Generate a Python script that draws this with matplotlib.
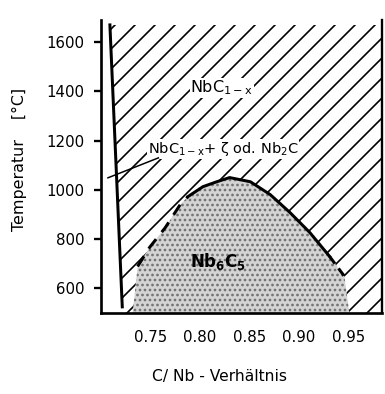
import matplotlib
matplotlib.use('Agg')
import matplotlib.pyplot as plt
import numpy as np

# phase boundary NbC(1-x) / two phase field (left steep line)
left_x = [0.709, 0.7215]
left_T = [1670, 525]

# Nb6C5 order region (dome)
dome_x = [0.732, 0.737, 0.749, 0.765, 0.780, 0.788, 0.803, 0.817, 0.830,
          0.851, 0.871, 0.891, 0.911, 0.931, 0.946, 0.951]
dome_T = [500, 689, 766, 847, 940, 973, 1013, 1033, 1050,
          1033, 981, 908, 827, 730, 649, 500]

yticks = [600, 800, 1000, 1200, 1400, 1600]
xticks = [0.75, 0.80, 0.85, 0.90, 0.95]
xticklabels = ['0.75', '0.80', '0.85', '0.90', '0.95']

plt.rcParams['hatch.linewidth'] = 1.0

fig = plt.figure(figsize=(385 / 120, 394 / 120), dpi=120)
ax = fig.add_axes([101 / 385, 1 - 313 / 394, 281 / 385, 293 / 394])
ax.set_xlim(0.70, 0.984)
ax.set_ylim(500, 1690)

# hatched single phase field between left boundary and right edge
hx = [left_x[0], 0.984, 0.984, left_x[1], left_x[1]]
hy = [left_T[0], left_T[0], 500, 500, left_T[1]]
ax.fill(hx, hy, facecolor='white', edgecolor='black', linewidth=0, hatch='//', zorder=1)

# stippled Nb6C5 field
ax.fill(dome_x, dome_T, facecolor='#d4d4d4', edgecolor='#6e6e6e',
        hatch='....', linewidth=0, zorder=2)

# boundary lines
ax.plot(left_x, left_T, color='black', lw=1.8, zorder=4)
ax.plot(dome_x[1:6], dome_T[1:6], color='black', lw=1.8, ls=(0, (4, 3)), zorder=4)
ax.plot(dome_x[5:14], dome_T[5:14], color='black', lw=1.8, zorder=4)
ax.plot(dome_x[13:15], dome_T[13:15], color='black', lw=1.8, ls=(0, (3, 2)), zorder=4)

# labels in the diagram
ax.text(0.822, 1414, r'NbC$_{\mathregular{1-x}}$', fontsize=9.6, ha='center', va='center', zorder=5,
        bbox=dict(facecolor='white', edgecolor='none', pad=0.5))
ax.text(0.7475, 1167, r'NbC$_{\mathregular{1-x}}$+ ζ od. Nb$_{\mathregular{2}}$C', fontsize=8.7,
        ha='left', va='center', zorder=5,
        bbox=dict(facecolor='white', edgecolor='none', pad=0.5))
ax.plot([0.758, 0.707], [1130, 1049], color='black', lw=0.9, zorder=5)
ax.text(0.818, 709, r'Nb$_{\mathregular{6}}$C$_{\mathregular{5}}$', fontsize=10, fontweight='bold',
        ha='center', va='center', zorder=5)

ax.spines['top'].set_visible(False)
ax.spines['left'].set_linewidth(1.6)
ax.spines['bottom'].set_linewidth(1.6)
ax.spines['right'].set_linewidth(1.4)
ax.set_yticks(yticks)
ax.set_xticks(xticks)
ax.set_xticklabels(xticklabels)
ax.tick_params(axis='x', length=0, pad=10, labelsize=9)
ax.tick_params(axis='y', length=4, width=1.4, direction='out', pad=6, labelsize=9)

fig.text(220 / 385, 1 - 377 / 394, 'C/ Nb - Verhältnis', ha='center', va='center', fontsize=9.3)
fig.text(19 / 385, 1 - 159 / 394, 'Temperatur    [°C]', rotation=90, ha='center', va='center', fontsize=9.5)

fig.savefig('out.png', dpi=120)
